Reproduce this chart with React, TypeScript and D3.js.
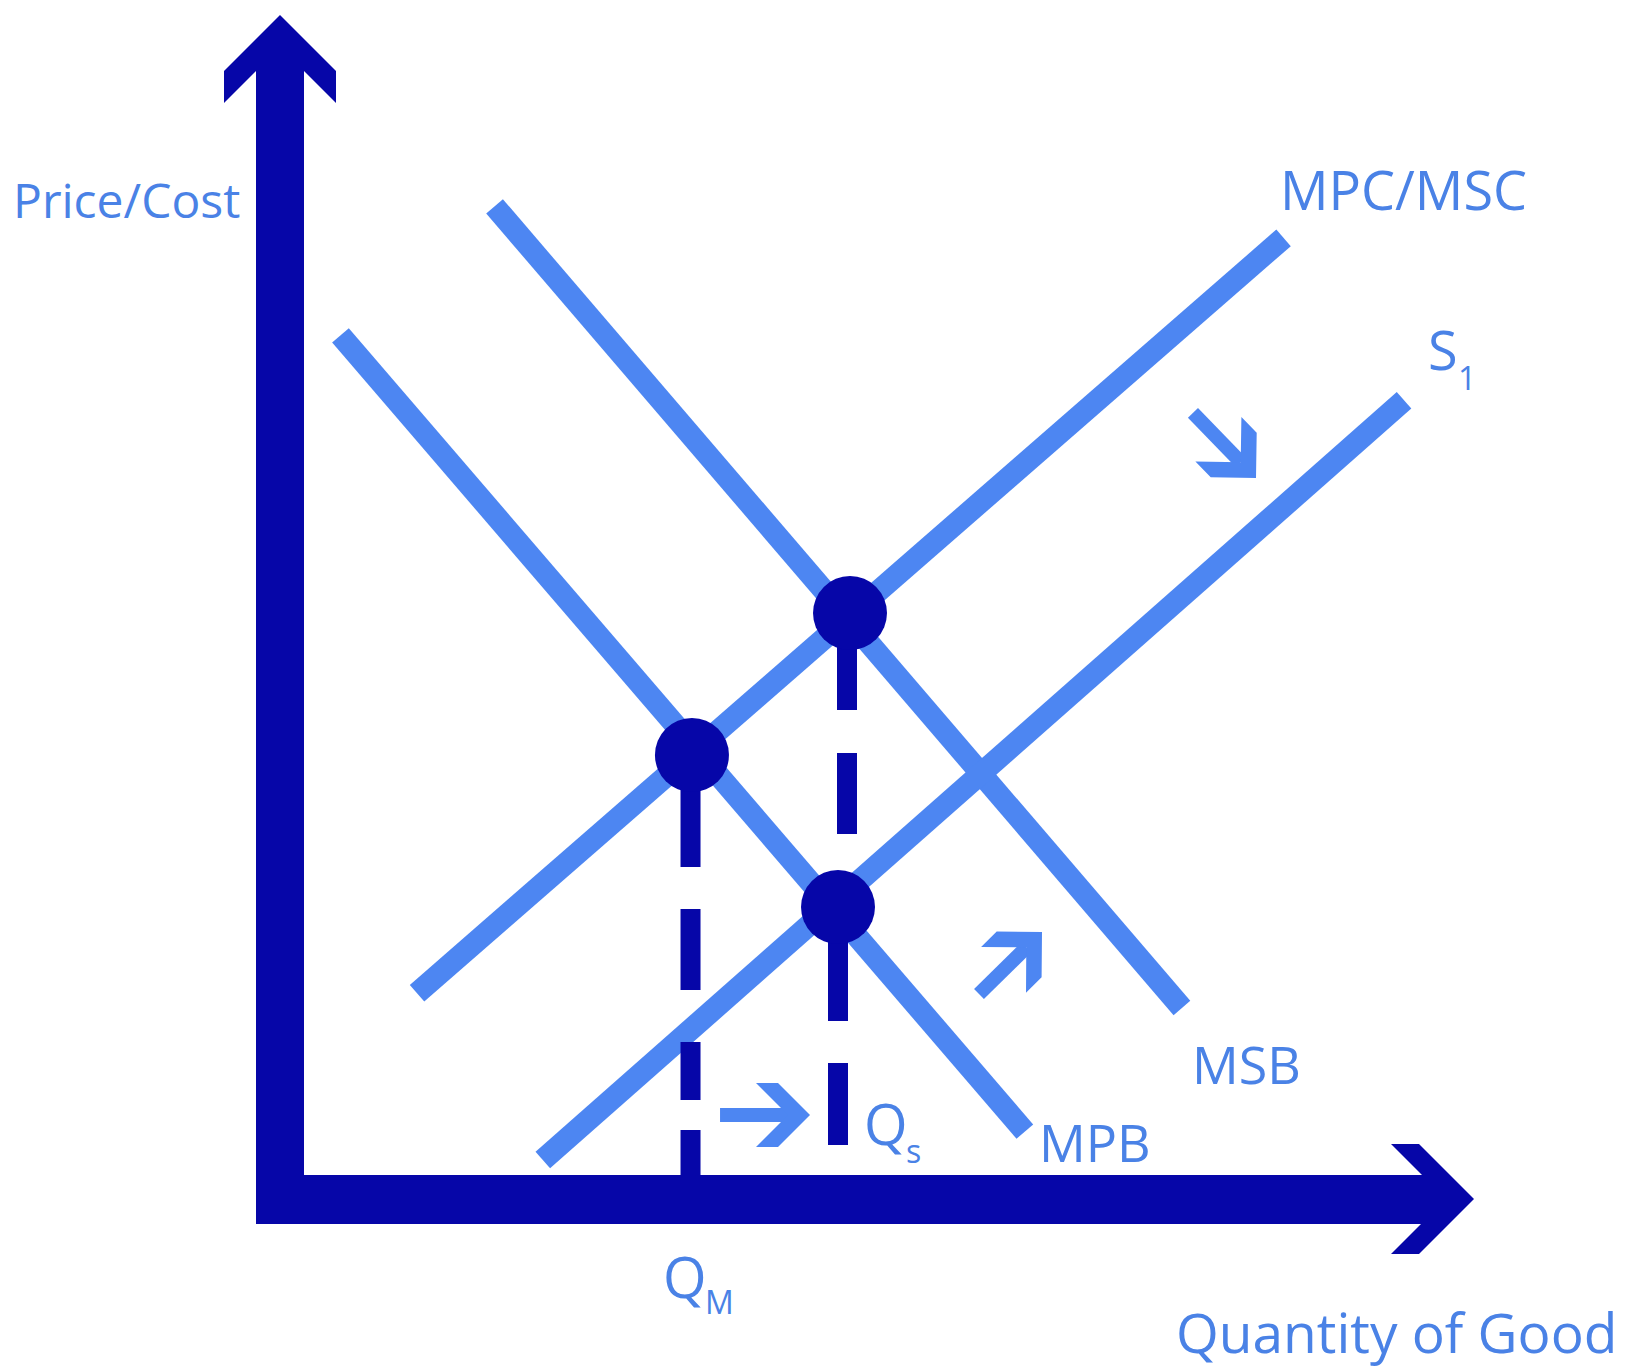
import React from "react";
import * as d3 from "d3";

// ---- data (chart units: quantity 0..100, price 0..100) ----
const curveNames = ["MSB", "MPB", "MPC/MSC", "S1"];
const msbLine = [{ q: 17.88, p: 82.79 }, { q: 75.16, p: 15.93 }];
const mpbLine = [{ q: 5.04, p: 72.03 }, { q: 62.07, p: 5.62 }];
const mpcLine = [{ q: 11.42, p: 17.16 }, { q: 83.63, p: 80.16 }];
const s1Line = [{ q: 21.9, p: 3.25 }, { q: 93.67, p: 66.61 }];

const equilibria = [
  { q: 47.5, p: 48.87 }, // MSB x MSC
  { q: 34.33, p: 37.03 }, // MPB x MPC
  { q: 46.5, p: 24.35 }, // MPB x S1
];

const dropLines = [
  { q: 34.21, segs: [[37.03, 27.69], [24.19, 17.43], [13.09, 8.26], [5.75, 2.0]] },
  { q: 47.25, segs: [[48.87, 40.78], [37.2, 30.44]] },
  { q: 46.5, segs: [[24.35, 14.85], [11.34, 4.5]] },
];

const shiftArrows = [
  { from: { q: 36.67, p: 7.01 }, to: { q: 44.17, p: 7.01 } },
  { from: { q: 76.08, p: 65.56 }, to: { q: 81.33, p: 60.13 } },
  { from: { q: 58.25, p: 17.1 }, to: { q: 63.5, p: 22.27 } },
];

const DARK = "#0606a8";
const LIGHT = "#4d86f2";
const TEXT = "#4a82e6";
const FONT = "'Open Sans', 'Noto Sans', sans-serif";

const x = d3.scaleLinear().domain([0, 100]).range([280, 1480]);
const y = d3.scaleLinear().domain([0, 100]).range([1199, 0]);

const line = d3
  .line<{ q: number; p: number }>()
  .x((d) => x(d.q))
  .y((d) => y(d.p));

function chevron(tx: number, ty: number, dx: number, dy: number, L: number, W: number, t: number) {
  const len = Math.hypot(dx, dy);
  const ux = dx / len, uy = dy / len;
  const nx = -uy, ny = ux;
  const a1 = [tx - L * ux + W * nx, ty - L * uy + W * ny];
  const a2 = [tx - L * ux - W * nx, ty - L * uy - W * ny];
  const pts = [
    [tx, ty],
    a1,
    [a1[0] - t * ux, a1[1] - t * uy],
    [tx - t * ux, ty - t * uy],
    [a2[0] - t * ux, a2[1] - t * uy],
    a2,
  ];
  return "M" + pts.map((p) => p[0].toFixed(1) + "," + p[1].toFixed(1)).join("L") + "Z";
}

export default function App() {
  const curves = [msbLine, mpbLine, mpcLine, s1Line];
  const x0 = x(0), y0 = y(0);
  const yTip = 15, yT = 32;
  const xTip = 1474, xT = 28;
  return (
    <svg
      width={1643}
      height={1372}
      style={{ position: "absolute", left: 0, top: 0, background: "#fff" }}
      fontFamily={FONT}
    >
      {/* axes */}
      <rect x={x0 - 24} y={yTip + yT - 1} width={48} height={y0 + 25 - (yTip + yT - 1)} fill={DARK} />
      <rect x={x0 - 24} y={y0 - 24} width={xTip - xT + 1 - (x0 - 24)} height={49} fill={DARK} />
      <path d={chevron(x0, yTip, 0, -1, 56, 56, yT)} fill={DARK} />
      <path d={chevron(xTip, y0, 1, 0, 55, 55, xT)} fill={DARK} />

      {/* curves */}
      {curves.map((c, i) => (
        <path key={curveNames[i]} d={line(c) || ""} stroke={LIGHT} strokeWidth={22} fill="none" />
      ))}

      {/* drop lines */}
      {dropLines.map((dl, i) =>
        dl.segs.map((s, j) => (
          <line
            key={i + "-" + j}
            x1={x(dl.q)}
            x2={x(dl.q)}
            y1={y(s[0])}
            y2={y(s[1])}
            stroke={DARK}
            strokeWidth={20}
          />
        ))
      )}

      {/* equilibrium dots */}
      {equilibria.map((e, i) => (
        <circle key={i} cx={x(e.q)} cy={y(e.p)} r={37} fill={DARK} />
      ))}

      {/* shift arrows */}
      {shiftArrows.map((a, i) => {
        const fx = x(a.from.q), fy = y(a.from.p), tx = x(a.to.q), ty = y(a.to.p);
        const dx = tx - fx, dy = ty - fy;
        const len = Math.hypot(dx, dy);
        const ex = tx - (dx / len) * 22, ey = ty - (dy / len) * 22;
        return (
          <g key={i}>
            <line x1={fx} y1={fy} x2={ex} y2={ey} stroke={LIGHT} strokeWidth={14} />
            <path d={chevron(tx, ty, dx, dy, 32, 32, 22)} fill={LIGHT} />
          </g>
        );
      })}

      {/* labels */}
      <g fill={TEXT}>
        <text x={13} y={218} fontSize={48}>Price/Cost</text>
        <text x={1280} y={210} fontSize={54}>MPC/MSC</text>
        <text x={1428} y={370} fontSize={54}>S</text>
        <text x={1458} y={390} fontSize={32}>1</text>
        <text x={1192} y={1084} fontSize={52}>MSB</text>
        <text x={1039} y={1162} fontSize={52}>MPB</text>
        <text x={864} y={1145} fontSize={56}>Q</text>
        <text x={906} y={1163} fontSize={32}>s</text>
        <text x={663} y={1298} fontSize={56}>Q</text>
        <text x={705} y={1314} fontSize={32}>M</text>
        <text x={1176} y={1353} fontSize={55}>Quantity of Good</text>
      </g>
    </svg>
  );
}
